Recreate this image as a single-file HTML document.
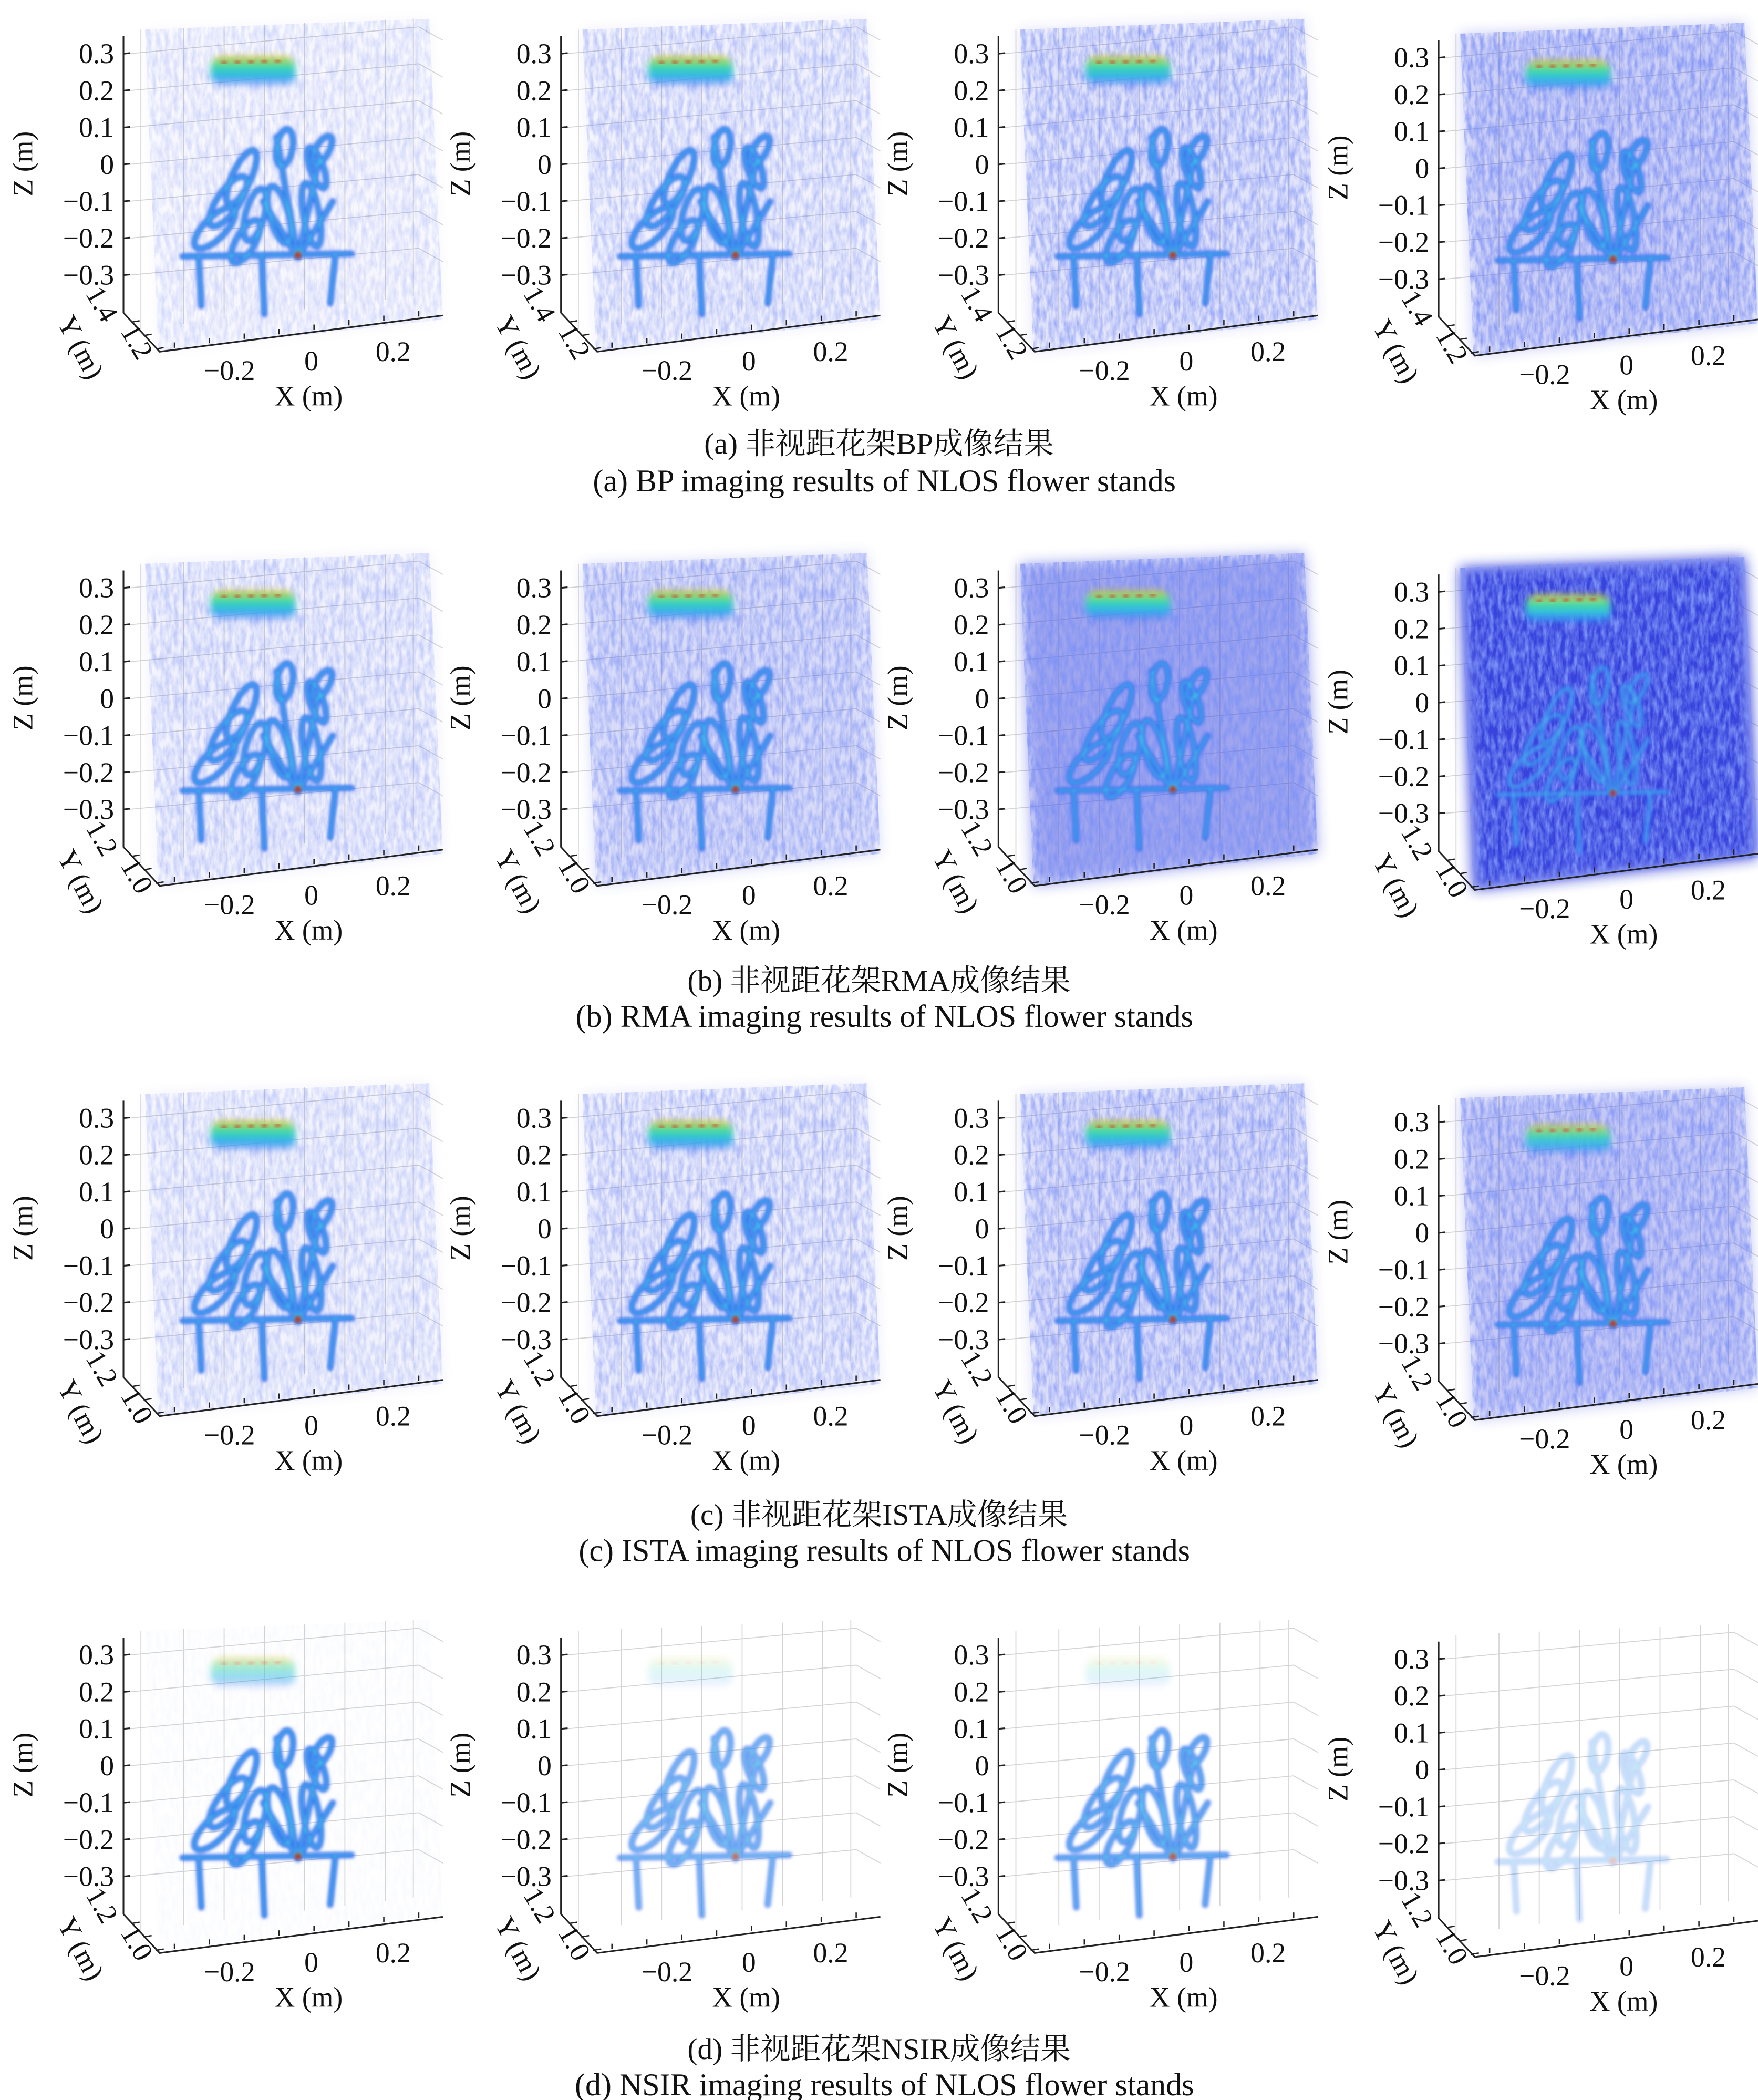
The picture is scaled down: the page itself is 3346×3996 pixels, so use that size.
<!DOCTYPE html>
<html><head><meta charset="utf-8"><style>
html,body{margin:0;padding:0;background:#fff}
svg{display:block}
text{font-family:"Liberation Serif","Noto Serif CJK SC",serif;fill:#111}
</style></head><body>
<svg id="fig" xmlns="http://www.w3.org/2000/svg" width="3346" height="3996" viewBox="0 0 1310 1564.5">
<defs>
<filter id="nz" x="0" y="0" width="1" height="1">
<feTurbulence type="fractalNoise" baseFrequency="0.3 0.1" numOctaves="3" seed="4" result="t"/>
<feColorMatrix in="t" type="matrix" values="0 0 0 0 0.2  0 0 0 0 0.28  0 0 0 0 0.92  0 0 0 2.0 -0.6" result="c"/>
<feComposite in="c" in2="SourceGraphic" operator="in"/>
</filter>
<filter id="soft" x="-0.2" y="-0.2" width="1.4" height="1.4"><feGaussianBlur stdDeviation="5"/></filter>
<filter id="bl" x="-0.2" y="-0.2" width="1.4" height="1.4"><feGaussianBlur stdDeviation="1.3"/></filter>
<filter id="bl2" x="-0.3" y="-0.3" width="1.6" height="1.6"><feGaussianBlur stdDeviation="2.5"/></filter>
<linearGradient id="potg" x1="0" y1="0" x2="0" y2="1">
<stop offset="0" stop-color="#e8c020"/><stop offset="0.3" stop-color="#40e0a0"/><stop offset="0.7" stop-color="#30b0f0"/><stop offset="1" stop-color="#4060f0" stop-opacity="0.3"/>
</linearGradient>
</defs>
<g id="panels"></g>
<g id="captions"></g>
</svg>
<script>
const zTicks=["0.3","0.2","0.1","0","\u22120.1","\u22120.2","\u22120.3"];
const xTicks=["\u22120.2","0","0.2"];
const yTicksA=["1.4","1.2"];
const yTicksB=["1.2","1.0"];
const baseFill=[0.03,0.06,0.12,0.22, 0.06,0.16,0.42,0.88, 0.05,0.08,0.15,0.25, 0,0,0,0];
const noiseLvl=[0.28,0.45,0.65,0.8, 0.4,0.6,0.85,1.0, 0.35,0.5,0.65,0.75, 0.04,0,0,0];
const flowerAlpha=[1,1,1,1, 1,1,1,0.8, 1,1,1,1, 1,0.75,0.85,0.3];
const potAlpha=[1,1,1,1, 1,1,1,1, 1,1,1,0.9, 0.5,0.15,0.15,0];
const rowLetters=["a","b","c","d"];
const rowMethods=["BP","RMA","ISTA","NSIR"];
const colDx=[0,326,652,980];
const rowDy=[0,398,793,1193];
const NS="http://www.w3.org/2000/svg";
function mk(tag,attrs,parent){const e=document.createElementNS(NS,tag);for(const k in attrs)e.setAttribute(k,attrs[k]);if(parent)parent.appendChild(e);return e;}
const zScale=v=>40+(0.3-v)/0.1*27.5;
const root=document.getElementById('panels');
for(let r=0;r<4;r++){for(let c=0;c<4;c++){
 const i=r*4+c;
 const g=mk('g',{transform:`translate(${colDx[c]},${rowDy[r]+(c==3?3:0)})`},root);
 
 
 const grid=mk('g',{stroke:'#d4d4d4','stroke-width':0.7,fill:'none'},g);
 
 
 [105,137,167,197,227,257,287,308].forEach(x=>mk('line',{x1:x,y1:22-(x-105)*0.04,x2:x,y2:245-(x-105)*0.12},grid));
 for(let k=0;k<7;k++){const y=zScale(0.3-k*0.1);mk('line',{x1:96,y1:y,x2:312,y2:y-20},grid);mk('line',{x1:312,y1:y-20,x2:330,y2:y-10},grid);}
 const vol=mk('g',{},g);
 
 
 const pts="108,22 320,14 330,238 118,262";
 if(baseFill[i]>0)mk('polygon',{points:pts,fill:'#1e2ad8',opacity:baseFill[i],filter:'url(#soft)'},vol);
 if(noiseLvl[i]>0)mk('polygon',{points:pts,fill:'#000',opacity:noiseLvl[i],filter:'url(#nz)'},vol);
 if(potAlpha[i]>0){const p=mk('g',{opacity:potAlpha[i]},vol);
  mk('rect',{x:157,y:42,width:63,height:22,rx:8,fill:'url(#potg)',filter:'url(#bl2)'},p);
  mk('line',{x1:165,y1:47,x2:213,y2:45,stroke:'#d04020','stroke-width':2,'stroke-dasharray':'4 6',filter:'url(#bl)'},p);}
 const fl=mk('g',{opacity:flowerAlpha[i],fill:'none','stroke-linecap':'round'},vol);
 
 
 const outer=mk('g',{stroke:'#3a6cf0','stroke-width':4.5,filter:'url(#bl)'},fl);
 const inner=mk('g',{stroke:'#40c8e8','stroke-width':1.3,filter:'url(#bl)'},fl);
 [outer,inner].forEach(s=>{
  [[180,132,7,22,25],[170,150,8,22,35],[160,170,8,20,45],[190,160,7,20,15],[183,180,7,18,30],[212,110,6,14,10],[236,125,5,16,-20],[208,160,7,22,-15],[232,160,6,24,-10],[240,112,5,12,30]].forEach(e=>mk('ellipse',{cx:e[0],cy:e[1],rx:e[2],ry:e[3],transform:`rotate(${e[4]} ${e[0]} ${e[1]})`},s));
  mk('path',{d:'M222 192 L206 102 M222 192 L238 118 M222 192 L196 150 M222 192 L248 150'},s);
  mk('path',{d:'M136 191 L262 189 M148 191 L150 228 M195 191 L197 234 M250 189 L246 226'},s);
 });
 mk('circle',{cx:222,cy:190,r:2.5,fill:'#c03020',filter:'url(#bl)'},fl);
 const ax=mk('g',{stroke:'#222','stroke-width':1.2,fill:'none'},g);
 
 
 mk('polyline',{points:'92,27 92,233 119,262 330,235'},ax);
 const zl=mk('g',{},g);
 
 
 zTicks.forEach(t=>{const v=parseFloat(t.replace('\u2212','-'));const y=zScale(v);
  mk('line',{x1:92,y1:y,x2:97,y2:y-0.5,stroke:'#222','stroke-width':1.2},ax);
  const tx=mk('text',{x:85,y:y+7,'text-anchor':'end','font-size':21},zl);tx.textContent=t;});
 const zt=mk('text',{x:24,y:122,'text-anchor':'middle','font-size':21,transform:'rotate(-90 24 122)'},g);
 zt.textContent='Z (m)';
 
 
 const yt=(r==0)?yTicksA:yTicksB;
 yt.forEach((t,k)=>{const x=70+k*26,y=230+k*28;const tx=mk('text',{x:x,y:y,'text-anchor':'middle','font-size':21,transform:`rotate(60 ${x} ${y})`},g);tx.textContent=t;
  
  });
 [0,1,2].forEach(k=>mk('line',{x1:98+k*9,y1:240+k*10,x2:104+k*9,y2:239+k*10,stroke:'#222','stroke-width':1},ax));
 const ytt=mk('text',{x:54,y:262,'text-anchor':'middle','font-size':21,transform:'rotate(62 54 262)'},g);
 ytt.textContent='Y (m)';
 
 
 const xpos=[[171,283],[232,276],[293,269]];
 xTicks.forEach((t,k)=>{const tx=mk('text',{x:xpos[k][0],y:xpos[k][1],'text-anchor':'middle','font-size':21},g);tx.textContent=t;
  
  });
 for(let k=0;k<8;k++){const x=130+k*26;const y=260.5-(x-119)*0.128;mk('line',{x1:x,y1:y,x2:x,y2:y-4,stroke:'#222','stroke-width':1},ax);}
 const xt=mk('text',{x:230,y:302,'text-anchor':'middle','font-size':21},g);
 xt.textContent='X (m)';
 
 
}}
const cap=document.getElementById('captions');
const capY=[[338,366],[738,765],[1136,1163],[1534,1561]];
for(let r=0;r<4;r++){
 const t1=mk('text',{x:655,y:capY[r][0],'text-anchor':'middle','font-size':22.5},cap);
 t1.textContent='('+rowLetters[r]+') 非视距花架'+rowMethods[r]+'成像结果';
 
 
 const t2=mk('text',{x:659,y:capY[r][1],'text-anchor':'middle','font-size':23.5},cap);
 t2.textContent='('+rowLetters[r]+') '+rowMethods[r]+' imaging results of NLOS flower stands';
 
 
}
</script>
</body></html>
